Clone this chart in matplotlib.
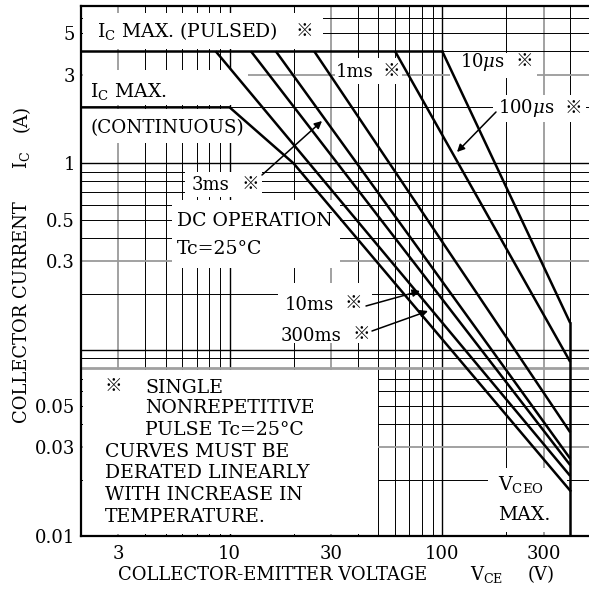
import matplotlib
matplotlib.use('Agg')
import matplotlib.pyplot as plt
from matplotlib.patches import Rectangle

FONT = ['DejaVu Serif', 'Noto Sans CJK JP']
plt.rcParams['font.family'] = FONT
plt.rcParams['mathtext.fontset'] = 'dejavuserif'

# ---------------- data ----------------
ic_pulsed_max = 4.0          # A
ic_cont_max = 2.0            # A
vceo_max = 400.0             # V
pulse_names = ['10µs', '100µs', '1ms', '3ms', '10ms', '300ms']
pulse_v_start = [100, 60, 25, 16.5, 12.6, 8.6]          # V where curve leaves 4 A
pulse_i_end = [0.139, 0.086, 0.036, 0.026, 0.024, 0.021]  # A at VCEO max
dc_v = [2, 10, 20, 400]
dc_i = [2, 2, 1, 0.0175]

x_ticks = [3, 10, 30, 100, 300]
x_ticklabels = ['3', '10', '30', '100', '300']
y_ticks = [0.01, 0.03, 0.05, 0.3, 0.5, 1, 3, 5]
y_ticklabels = ['0.01', '0.03', '0.05', '0.3', '0.5', '1', '3', '5']

v_grid = [3, 4, 5, 6, 7, 8, 9, 10, 20, 30, 40, 50, 60, 70, 80, 90, 100, 200, 300, 400]
i_grid = [0.02, 0.03, 0.04, 0.05, 0.06, 0.07, 0.08, 0.09,
          0.1, 0.2, 0.3, 0.4, 0.5, 0.6, 0.7, 0.8, 0.9, 1, 2, 3, 4, 5, 6]

# ---------------- layout helpers (pixel -> figure fraction) ----------------
W = H = 589
def fx(x):
    return x / W
def fy(y):
    return 1 - y / H

fig = plt.figure(figsize=(W / 100, H / 100), dpi=100)
fig.patch.set_facecolor('white')
ax = fig.add_axes([fx(81), fy(536), (589 - 81) / W, (536 - 6) / H])
ax.set_xscale('log')
ax.set_yscale('log')
ax.set_xlim(2, 490)
ax.set_ylim(0.01, 7)

# grid
for v in v_grid:
    gray = v in (3, 30, 300)
    ax.axvline(v, color='#9a9a9a' if gray else 'black',
               lw=1.3 if gray else (1.0 if v in (10, 100) else 0.7), zorder=1)
for i in i_grid:
    gray = i in (0.03, 0.3, 3)
    ax.axhline(i, color='#9a9a9a' if gray else 'black',
               lw=1.3 if gray else (1.0 if i in (0.1, 1) else 0.7), zorder=1)
ax.axhline(0.08, color='#a0a0a0', lw=2.0, zorder=1)

# white knock-out areas behind labels (pixel rectangles)
masks = [
    (83, 323, 13, 49),
    (83, 248, 70, 105),
    (83, 245, 109, 143),
    (185, 262, 172, 197),
    (172, 340, 200, 268),
    (278, 372, 283, 343),
    (83, 378, 370, 534),
    (335, 402, 58, 84),
    (450, 537, 53, 78),
    (493, 586, 95, 122),
    (488, 567, 468, 532),
]
for x0, x1, y0, y1 in masks:
    ax.add_patch(Rectangle((fx(x0), fy(y1)), (x1 - x0) / W, (y1 - y0) / H,
                           transform=fig.transFigure, facecolor='white',
                           edgecolor='none', zorder=2))

LW = 1.8
# Ic max pulsed
ax.plot([2, max(pulse_v_start)], [ic_pulsed_max, ic_pulsed_max], color='black', lw=LW, zorder=3)
# pulse curves
for vs, ie in zip(pulse_v_start, pulse_i_end):
    ax.plot([vs, vceo_max], [ic_pulsed_max, ie], color='black', lw=LW, zorder=3,
            solid_capstyle='butt')
# DC
ax.plot(dc_v, dc_i, color='black', lw=LW, zorder=3)
# VCEO max
ax.plot([vceo_max, vceo_max], [0.01, max(pulse_i_end)], color='black', lw=LW, zorder=3)

# axes styling
for s in ['left', 'bottom', 'top']:
    ax.spines[s].set_linewidth(1.6)
ax.spines['right'].set_visible(False)
ax.set_xticks(x_ticks)
ax.set_xticklabels(x_ticklabels)
ax.set_yticks(y_ticks)
ax.set_yticklabels(y_ticklabels)
ax.minorticks_off()
ax.tick_params(axis='both', length=0, labelsize=13)
ax.tick_params(axis='x', pad=6.5)
ax.tick_params(axis='y', pad=4.5)

FS = 13.6
def T(x, y, s, **kw):
    kw.setdefault('fontsize', FS)
    fig.text(fx(x), fy(y), s, ha=kw.pop('ha', 'left'), va=kw.pop('va', 'baseline'),
             family=FONT, **kw)

def REF(x, y, size=FS):
    fig.text(fx(x), fy(y), '※', ha='center', va='center', fontsize=size - 1,
             family=['Noto Sans CJK JP', 'DejaVu Sans'])

T(97, 37, r'I$_\mathrm{C}$ MAX. (PULSED)')
REF(304, 31)
T(90, 97, r'I$_\mathrm{C}$ MAX.')
T(90, 133, '(CONTINUOUS)', fontsize=13.2)
T(192, 190, '3ms', fontsize=13)
REF(250, 184)
T(177, 226, 'DC OPERATION')
T(177, 254, 'Tc=25°C')
T(336, 77, '1ms', fontsize=13)
REF(391, 71)
T(460, 67, r'10$\mu$s', fontsize=13)
REF(524, 61)
T(498, 113, r'100$\mu$s', fontsize=13)
REF(573, 108)
T(285, 310, '10ms', fontsize=13)
REF(353, 303)
T(281, 341, '300ms', fontsize=13)
REF(361, 334)
T(498, 490, r'V$_\mathrm{CEO}$')
T(498, 520, 'MAX.')

# note
REF(113, 386)
T(145, 393, 'SINGLE')
T(145, 413, 'NONREPETITIVE')
T(145, 435, 'PULSE Tc=25°C')
T(105, 457, 'CURVES MUST BE')
T(105, 478, 'DERATED LINEARLY')
T(105, 500, 'WITH INCREASE IN')
T(105, 522, 'TEMPERATURE.')

# axis labels
T(118, 580, 'COLLECTOR-EMITTER VOLTAGE', fontsize=13)
T(470, 580, r'V$_\mathrm{CE}$', fontsize=13)
T(528, 580, '(V)', fontsize=13)
fig.text(fx(27), fy(312), 'COLLECTOR CURRENT', rotation=90, rotation_mode='anchor',
         ha='center', va='baseline', fontsize=13, family=FONT)
fig.text(fx(27), fy(160), r'I$_\mathrm{C}$', rotation=90, rotation_mode='anchor',
         ha='center', va='baseline', fontsize=13, family=FONT)
fig.text(fx(27), fy(118), '(A)', rotation=90, rotation_mode='anchor',
         ha='center', va='baseline', fontsize=13, family=FONT)

# arrows
arrows = [
    ((262, 175), (322, 121)),
    ((496, 112), (457, 152)),
    ((366, 306), (420, 291)),
    ((372, 331), (428, 311)),
]
for (x0, y0), (x1, y1) in arrows:
    ax.annotate('', xy=(fx(x1), fy(y1)), xytext=(fx(x0), fy(y0)),
                xycoords='figure fraction', textcoords='figure fraction',
                arrowprops=dict(arrowstyle='-|>', color='black', lw=1.1,
                                mutation_scale=11, shrinkA=0, shrinkB=0),
                zorder=5)

fig.savefig('out.png', dpi=100)
